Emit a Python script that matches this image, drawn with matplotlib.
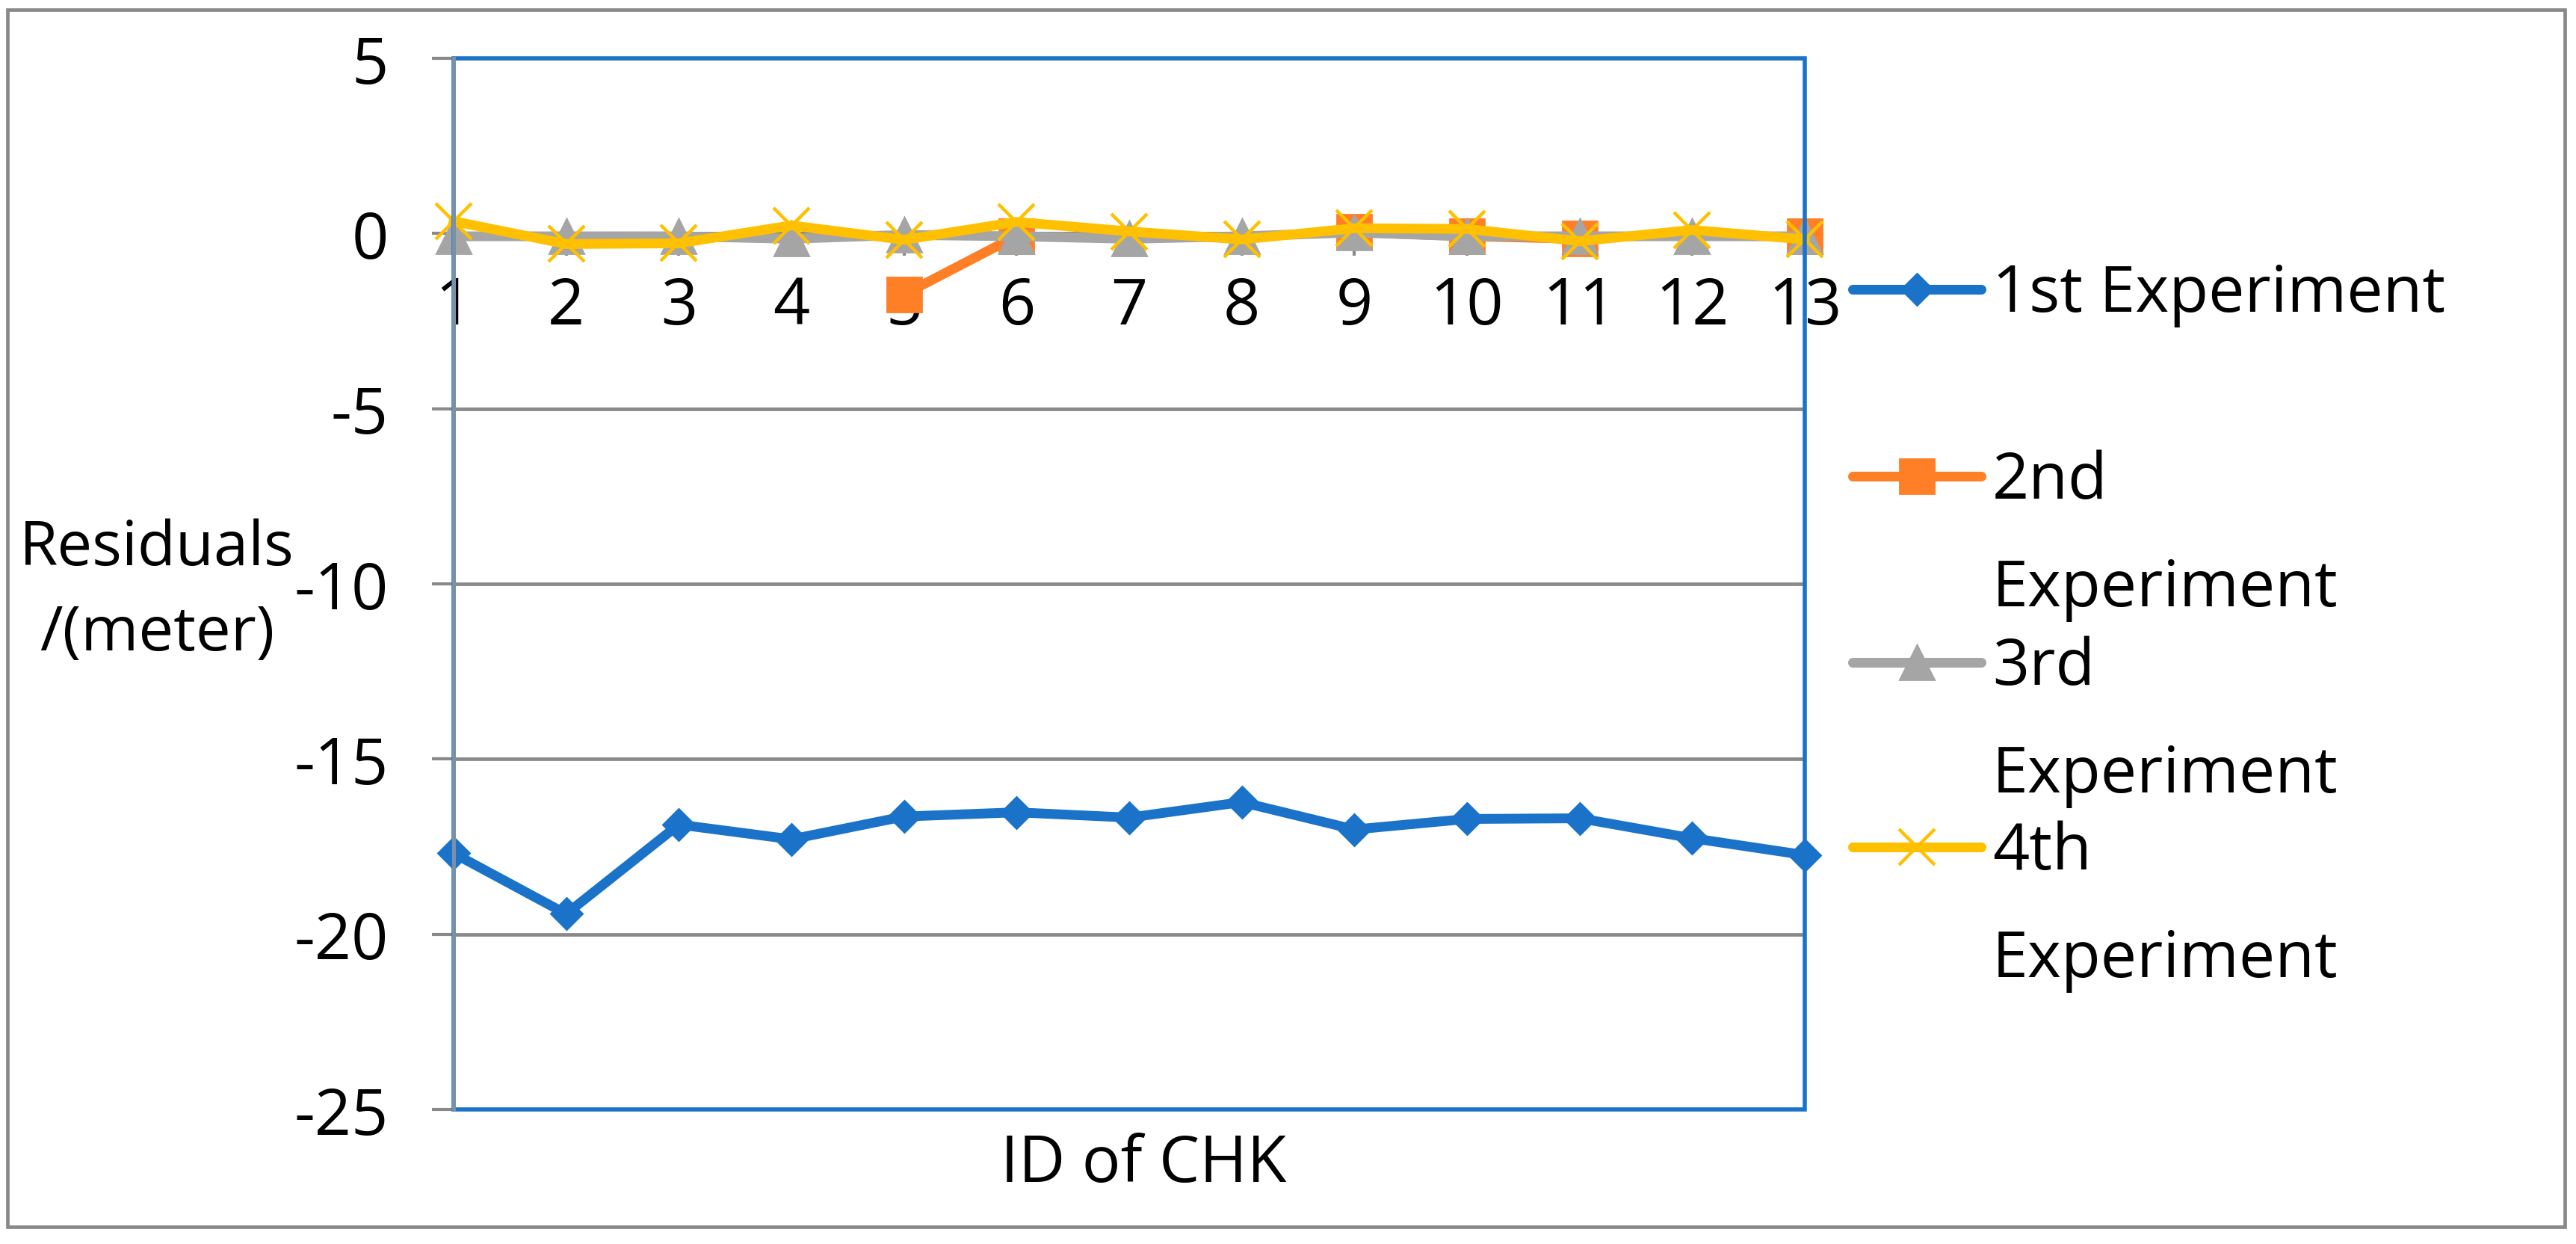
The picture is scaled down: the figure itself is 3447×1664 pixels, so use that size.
import matplotlib
matplotlib.use('Agg')
import matplotlib.pyplot as plt
from matplotlib.lines import Line2D
from matplotlib.patches import Rectangle
import numpy as np

plt.rcParams['font.family'] = ['Open Sans', 'DejaVu Sans']
plt.rcParams['axes.unicode_minus'] = False

# data
ids = list(range(1, 14))
exp1 = [-17.69, -19.42, -16.87, -17.29, -16.64, -16.52, -16.67, -16.23, -17.01, -16.71, -16.69, -17.26, -17.74]
exp2 = [np.nan, np.nan, np.nan, np.nan, -1.74, -0.07, np.nan, np.nan, 0.04, -0.08, -0.15, np.nan, -0.08]
exp3 = [-0.08, -0.08, -0.08, -0.15, -0.04, -0.08, -0.15, -0.08, 0.03, -0.08, -0.08, -0.08, -0.08]
exp4 = [0.35, -0.30, -0.28, 0.23, -0.18, 0.33, 0.06, -0.17, 0.15, 0.13, -0.22, 0.10, -0.17]
yticks = [5, 0, -5, -10, -15, -20, -25]
labels = ['1st Experiment', '2nd\nExperiment', '3rd\nExperiment', '4th\nExperiment']

C_BLUE = '#1A73C8'
C_ORANGE = '#FF7F27'
C_GRAY = '#A5A5A5'
C_YELLOW = '#FFC000'
C_AX = '#898989'

W, H = 3448, 1665
fs = 31
lw = 4.7

series = [
    (exp1, C_BLUE, 'D', 10.5, 1.0),
    (exp2, C_ORANGE, 's', 16.5, 1.0),
    (exp3, C_GRAY, '^', 16.5, 1.0),
    (exp4, C_YELLOW, 'x', 17.5, 1.6),
]

fig = plt.figure(figsize=(W / 200, H / 200), dpi=200)
ax = fig.add_axes([607 / W, 1 - 1485 / H, (2415 - 607) / W, (1485 - 79) / H])

for vals, c, m, msz, mew in series:
    ax.plot(ids, vals, '-', color=c, lw=lw, marker=m, ms=msz, mec=c, mfc=c,
            mew=mew, clip_on=False, zorder=3, solid_joinstyle='miter')

ax.set_xlim(1, 13)
ax.set_ylim(-25, 5)
ax.set_yticks(yticks)
ax.set_xticks(ids)

for s in ['top', 'right']:
    ax.spines[s].set_visible(False)
ax.spines['bottom'].set_position(('data', 0))
ax.spines['bottom'].set_color(C_AX)
ax.spines['bottom'].set_linewidth(1.7)
ax.spines['left'].set_color('#7890AA')
ax.spines['left'].set_linewidth(1.8)
ax.spines['left'].set_zorder(5)

ax.yaxis.grid(True, color=C_AX, lw=1.7)
ax.set_axisbelow(True)
ax.tick_params(axis='x', direction='out', length=10.8, width=1.5, color=C_AX,
               labelsize=fs, pad=9)
ax.tick_params(axis='y', direction='out', length=10.4, width=1.5, color=C_AX,
               labelsize=fs, pad=21)

# blue plot-area border
ax.add_patch(Rectangle((0, 0), 1, 1, transform=ax.transAxes, fill=False,
                       edgecolor=C_BLUE, lw=2.0, zorder=4, clip_on=False))

# axis titles
fig.text(210 / W, 1 - 792 / H, 'Residuals\n/(meter)', ha='center', va='center',
         fontsize=30, linespacing=1.5)
fig.text(1530 / W, 1 - 1559 / H, 'ID of CHK', ha='center', va='center', fontsize=fs)

# legend to the right of the plot area
row_y = [388, 638, 887, 1134]
for (vals, c, m, msz, mew), lab, ry in zip(series, labels, row_y):
    yy = 1 - ry / H
    fig.add_artist(Line2D([2479 / W, 2565 / W, 2651 / W], [yy, yy, yy],
                          transform=fig.transFigure, color=c, lw=lw,
                          solid_capstyle='round', marker=m, ms=msz, mec=c,
                          mfc=c, mew=mew, markevery=[1]))
    for k, part in enumerate(lab.split('\n')):
        fig.text(2666 / W, 1 - (ry + 29 + 144 * k) / H, part, ha='left',
                 va='baseline', fontsize=fs)

# outer chart border
fig.add_artist(Rectangle((10 / W, 1 - 1642 / H), (3432 - 10) / W, (1642 - 14) / H,
                         transform=fig.transFigure, fill=False, edgecolor=C_AX, lw=1.7))

fig.savefig('out.png', dpi=200)
